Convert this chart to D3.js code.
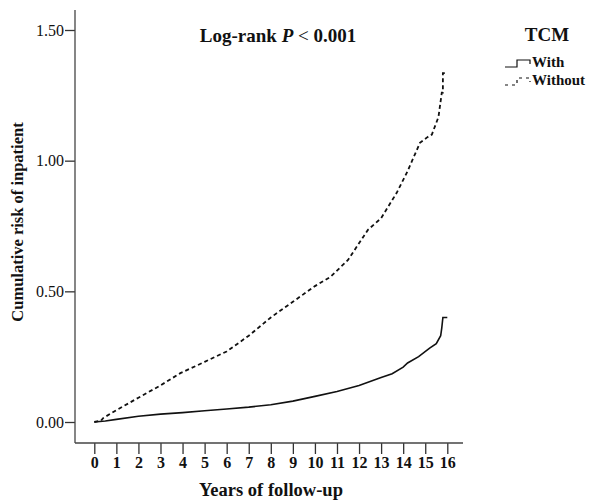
<!DOCTYPE html>
<html>
<head>
<meta charset="utf-8">
<script src="https://cdn.jsdelivr.net/npm/d3@7"></script>
<style>
  body { margin: 0; background: #fff; }
  svg { display: block; font-family: "Liberation Serif", "Times New Roman", serif; }
</style>
</head>
<body>
<div id="chart"></div>
<script>
// years of follow-up, cumulative risk
var withYears = [0, 0.5, 1, 2, 3, 4, 5, 6, 7, 8, 9, 10, 11, 12, 13, 13.5, 14, 14.2, 14.7, 15.2, 15.5, 15.7, 15.75, 15.8, 16.0];
var withRisk = [0, 0.004, 0.01, 0.022, 0.03, 0.036, 0.043, 0.05, 0.057, 0.066, 0.08, 0.098, 0.117, 0.14, 0.17, 0.185, 0.21, 0.226, 0.25, 0.283, 0.30, 0.33, 0.36, 0.40, 0.40];

var withoutYears = [0, 0.3, 0.4, 1, 2, 3, 3.9, 5, 6, 7, 8, 9, 10, 10.7, 11.5, 12.4, 13, 13.7, 14.2, 14.76, 15.1, 15.3, 15.6, 15.75, 15.8, 15.8, 16.0];
var withoutRisk = [0, 0.005, 0.015, 0.045, 0.093, 0.14, 0.187, 0.23, 0.27, 0.33, 0.40, 0.46, 0.52, 0.555, 0.62, 0.735, 0.78, 0.876, 0.96, 1.068, 1.09, 1.10, 1.167, 1.26, 1.26, 1.335, 1.335];

var xTicks = d3.range(0, 17);
var yTicks = [0, 0.5, 1.0, 1.5];
var legendLabels = ["With", "Without"];

var W = 590, H = 502;

var svg = d3.select("#chart")
    .append("svg")
    .attr("width", W)
    .attr("height", H);

var x = d3.scaleLinear().domain([0, 16]).range([94.3, 447.3]);
var y = d3.scaleLinear().domain([0, 1.5]).range([422, 30]);

var axisX0 = 75, axisY0 = 443;

// y axis
var yAxis = d3.axisLeft(y)
    .tickValues(yTicks)
    .tickSize(10)
    .tickSizeOuter(0)
    .tickFormat(d3.format(".2f"));

var gy = svg.append("g")
    .attr("transform", "translate(" + axisX0 + ",0)")
    .call(yAxis);
gy.select(".domain").remove();
gy.selectAll(".tick line").attr("stroke", "#333").attr("stroke-width", 1.3);
gy.selectAll(".tick text")
    .attr("x", -11)
    .attr("fill", "#111")
    .style("font-family", "Liberation Serif")
    .style("font-size", "16px");

svg.append("line")
    .attr("x1", axisX0).attr("x2", axisX0)
    .attr("y1", 10).attr("y2", axisY0)
    .attr("stroke", "#444").attr("stroke-width", 1.3);

// x axis
var xAxis = d3.axisBottom(x)
    .tickValues(xTicks)
    .tickSize(11)
    .tickSizeOuter(0);

var gx = svg.append("g")
    .attr("transform", "translate(0," + axisY0 + ")")
    .call(xAxis);
gx.select(".domain").remove();
gx.selectAll(".tick line").attr("stroke", "#333").attr("stroke-width", 1.3);
gx.selectAll(".tick text")
    .attr("y", 14)
    .attr("fill", "#111")
    .style("font-family", "Liberation Serif")
    .style("font-weight", "bold")
    .style("font-size", "16px");

svg.append("line")
    .attr("x1", axisX0).attr("x2", 463)
    .attr("y1", axisY0).attr("y2", axisY0)
    .attr("stroke", "#444").attr("stroke-width", 1.3);

// curves
var line = d3.line()
    .x(function(d) { return x(d[0]); })
    .y(function(d) { return y(d[1]); });

var withData = withYears.map(function(t, i) { return [t, withRisk[i]]; });
var withoutData = withoutYears.map(function(t, i) { return [t, withoutRisk[i]]; });

svg.append("path")
    .datum(withoutData)
    .attr("d", line)
    .attr("fill", "none")
    .attr("stroke", "#111")
    .attr("stroke-width", 1.8)
    .attr("stroke-dasharray", "4,3");

svg.append("path")
    .datum(withData)
    .attr("d", line)
    .attr("fill", "none")
    .attr("stroke", "#111")
    .attr("stroke-width", 1.6);

// title
var title = svg.append("text")
    .attr("x", 278)
    .attr("y", 42)
    .attr("text-anchor", "middle")
    .style("font-size", "19px")
    .style("font-weight", "bold")
    .attr("fill", "#111");
title.append("tspan").text("Log-rank ");
title.append("tspan").style("font-style", "italic").text("P");
title.append("tspan").style("font-weight", "normal").text(" <");
title.append("tspan").text(" 0.001");

// axis titles
svg.append("text")
    .attr("x", 271)
    .attr("y", 496)
    .attr("text-anchor", "middle")
    .style("font-size", "18.5px")
    .style("font-weight", "bold")
    .attr("fill", "#111")
    .text("Years of follow-up");

svg.append("text")
    .attr("transform", "translate(23,222) rotate(-90)")
    .attr("text-anchor", "middle")
    .style("font-size", "16.5px")
    .style("font-weight", "bold")
    .attr("fill", "#111")
    .text("Cumulative risk of inpatient");

// legend
svg.append("text")
    .attr("x", 547)
    .attr("y", 41)
    .attr("text-anchor", "middle")
    .style("font-size", "19px")
    .style("font-weight", "bold")
    .attr("fill", "#111")
    .text("TCM");

var legend = svg.selectAll(".legend")
    .data(legendLabels)
    .enter().append("g")
    .attr("class", "legend")
    .attr("transform", function(d, i) { return "translate(505," + (67 + i * 18) + ")"; });

legend.append("path")
    .attr("d", "M0,0 H12 V-7 H25 V-3")
    .attr("fill", "none")
    .attr("stroke", "#111")
    .attr("stroke-width", 1.2)
    .attr("stroke-dasharray", function(d, i) { return i === 1 ? "3,4" : null; });

legend.append("text")
    .attr("x", 27)
    .attr("y", 0)
    .style("font-size", "15px")
    .style("font-weight", "bold")
    .attr("fill", "#111")
    .text(function(d) { return d; });
</script>
</body>
</html>
